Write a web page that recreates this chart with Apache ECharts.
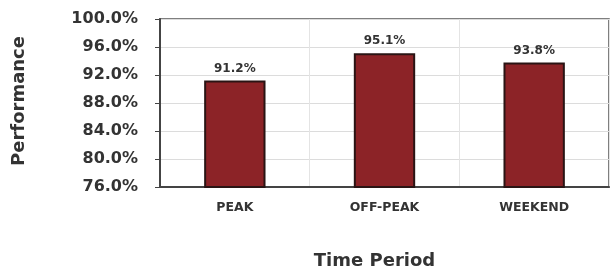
<!DOCTYPE html>
<html>
<head>
<meta charset="utf-8">
<script src="https://cdn.jsdelivr.net/npm/echarts@6/dist/echarts.min.js"></script>
<style>
  html, body { margin: 0; padding: 0; background: #fff; }
  #chart { width: 612px; height: 270px; }
</style>
</head>
<body>
<div id="chart"></div>
<script>
// data
var periods = ["PEAK", "OFF-PEAK", "WEEKEND"];
var performance = [91.2, 95.1, 93.8];
var yMin = 76;
var yMax = 100;
var yStep = 4;

var myChart = echarts.init(document.getElementById("chart"));

var config = {
  animation: false,
  textStyle: { fontFamily: "DejaVu Sans, sans-serif" },
  grid: {
    left: 160,
    right: 3,
    top: 19,
    bottom: 83,
    outerBoundsMode: "none",
    show: true,
    borderColor: "#555",
    borderWidth: 1.5,
  },
  xAxis: {
    type: "category",
    data: periods,
    name: "Time Period",
    nameLocation: "middle",
    nameGap: 65,
    nameTextStyle: {
      fontSize: 18,
      fontWeight: "bold",
      color: "#333",
      padding: [0, 20, 0, 0],
    },
    axisLine: { lineStyle: { color: "#444", width: 2 } },
    axisTick: { show: false },
    axisLabel: { fontSize: 12.5, fontWeight: "bold", color: "#333", margin: 14 },
    splitLine: { show: true, lineStyle: { color: "#e4e4e4", width: 1 } },
  },
  yAxis: {
    type: "value",
    min: yMin,
    max: yMax,
    interval: yStep,
    name: "Performance",
    nameLocation: "middle",
    nameGap: 132,
    nameTextStyle: {
      fontSize: 18,
      fontWeight: "bold",
      color: "#333",
      padding: [0, 0, 0, 4],
    },
    axisLine: { show: true, lineStyle: { color: "#444", width: 2 } },
    axisTick: { show: true, length: 5, lineStyle: { color: "#444" } },
    axisLabel: {
      fontSize: 16,
      fontWeight: "bold",
      color: "#333",
      margin: 22,
      formatter: function (v) {
        return v.toFixed(1) + "%";
      },
    },
    splitLine: { lineStyle: { color: "#dcdcdc", width: 1 } },
  },
  series: [
    {
      type: "bar",
      data: performance,
      barWidth: "41%",
      itemStyle: {
        color: "#8c2327",
        borderColor: "#2a1414",
        borderWidth: 2,
      },
      label: {
        show: true,
        position: "top",
        distance: 6,
        fontSize: 12,
        fontWeight: "bold",
        color: "#333",
        formatter: function (p) {
          return p.value.toFixed(1) + "%";
        },
      },
    },
  ],
};

myChart.setOption(config);
</script>
</body>
</html>
